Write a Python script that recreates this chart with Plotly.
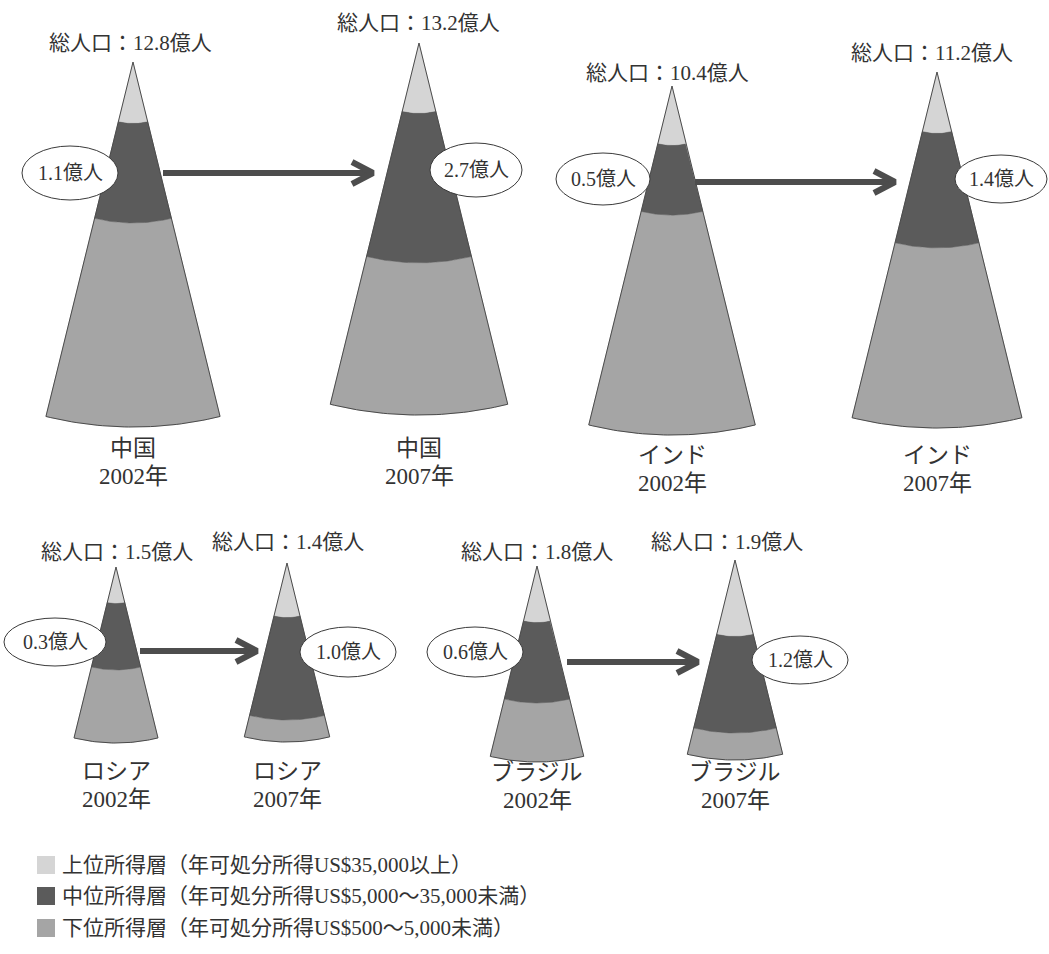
import math
import plotly.graph_objects as go

# ---------------- data ----------------
countries = ["中国", "中国", "インド", "インド", "ロシア", "ロシア", "ブラジル", "ブラジル"]
years = [2002, 2007, 2002, 2007, 2002, 2007, 2002, 2007]
total_pop = [12.8, 13.2, 10.4, 11.2, 1.5, 1.4, 1.8, 1.9]          # 億人
middle_pop = [1.1, 2.7, 0.5, 1.4, 0.3, 1.0, 0.6, 1.2]              # 億人
# radial extent of bands (fraction of cone length, from apex)
upper_share = [0.167, 0.188, 0.169, 0.171, 0.205, 0.302, 0.286, 0.380]
upper_mid_share = [0.441, 0.591, 0.370, 0.494, 0.585, 0.877, 0.699, 0.865]

legend_labels = [
    "上位所得層（年可処分所得US$35,000以上）",
    "中位所得層（年可処分所得US$5,000～35,000未満）",
    "下位所得層（年可処分所得US$500～5,000未満）",
]

# ---------------- layout / drawing parameters ----------------
W, H = 1049, 954
apex_x = [133, 419, 672, 937, 116, 287, 537, 735]
apex_y = [62, 43, 86, 72, 567, 563, 566, 560]
cone_len = [365, 372, 349, 356, 176, 179, 196, 200]
half_angle = math.radians(13.8)
title_x = [130, 418, 667, 932, 117, 288, 537, 727]
title_y = [43, 23, 73, 53, 552, 542, 552, 542]
label_y = [448, 448, 455, 455, 771, 771, 772, 772]
ell_cx = [70, 476, 603, 1001, 55, 348, 475, 800]
ell_cy = [173, 170, 179, 179, 642, 652, 652, 660]
ell_rx = [48, 46, 47, 46, 51, 48, 48, 48]
ell_ry = [27, 27, 26, 24, 24, 25, 25, 24]
arrows = [(163, 373, 173), (695, 895, 182), (140, 257, 651), (567, 698, 662)]

col_upper, col_mid, col_low = "#d5d5d5", "#5b5b5b", "#a5a5a5"
text_col = "#333333"
FONT = "Liberation Serif, 'Noto Sans CJK JP', serif"

fig = go.Figure()


def arc(ax, ay, r, a0, a1, n=40):
    xs, ys = [], []
    for i in range(n + 1):
        a = a0 + (a1 - a0) * i / n
        xs.append(ax + r * math.sin(a))
        ys.append(ay + r * math.cos(a))
    return xs, ys


def band(ax, ay, r0, r1, color):
    xo, yo = arc(ax, ay, r1, -half_angle, half_angle)
    if r0 <= 0:
        xi, yi = [ax], [ay]
    else:
        xi, yi = arc(ax, ay, r0, half_angle, -half_angle)
    xs = xo + xi + [xo[0]]
    ys = yo + yi + [yo[0]]
    fig.add_trace(go.Scatter(x=xs, y=ys, mode="lines", fill="toself",
                             fillcolor=color, line=dict(color=color, width=0.5),
                             hoverinfo="skip", showlegend=False))


annotations = []
shapes = []
for i in range(len(countries)):
    ax, ay, L = apex_x[i], apex_y[i], cone_len[i]
    r_up = L * upper_share[i]
    r_mid = L * upper_mid_share[i]
    band(ax, ay, r_mid, L, col_low)
    band(ax, ay, r_up, r_mid, col_mid)
    band(ax, ay, 0, r_up, col_upper)
    # outline
    xo, yo = arc(ax, ay, L, -half_angle, half_angle)
    fig.add_trace(go.Scatter(x=[ax] + xo + [ax], y=[ay] + yo + [ay], mode="lines",
                             line=dict(color="#4a4a4a", width=1),
                             hoverinfo="skip", showlegend=False))
    # title
    annotations.append(dict(x=title_x[i], y=title_y[i], text=f"総人口：{total_pop[i]:.1f}億人",
                            showarrow=False, xanchor="center", yanchor="middle",
                            font=dict(size=21, color=text_col, family=FONT)))
    # country / year labels
    annotations.append(dict(x=ax, y=label_y[i], text=countries[i],
                            showarrow=False, xanchor="center", yanchor="middle",
                            font=dict(size=23, color=text_col, family=FONT)))
    annotations.append(dict(x=ax, y=label_y[i] + 28, text=f"{years[i]}年",
                            showarrow=False, xanchor="center", yanchor="middle",
                            font=dict(size=23, color=text_col, family=FONT)))
    # ellipse with middle-class count
    shapes.append(dict(type="circle", xref="x", yref="y",
                       x0=ell_cx[i] - ell_rx[i], x1=ell_cx[i] + ell_rx[i],
                       y0=ell_cy[i] - ell_ry[i], y1=ell_cy[i] + ell_ry[i],
                       fillcolor="white", line=dict(color="#3a3a3a", width=1), layer="above"))
    annotations.append(dict(x=ell_cx[i], y=ell_cy[i], text=f"{middle_pop[i]:.1f}億人",
                            showarrow=False, xanchor="center", yanchor="middle",
                            font=dict(size=20, color=text_col, family=FONT)))

# arrows
for x0, x1, y in arrows:
    fig.add_trace(go.Scatter(x=[x0, x1 - 3], y=[y, y], mode="lines",
                             line=dict(color="#4d4d4d", width=6),
                             hoverinfo="skip", showlegend=False))
    fig.add_trace(go.Scatter(x=[x1 - 21, x1, x1 - 21], y=[y - 11, y, y + 11], mode="lines",
                             line=dict(color="#4d4d4d", width=6),
                             hoverinfo="skip", showlegend=False))

# legend
leg_y = [865, 896, 928]
for c, lab, y in zip([col_upper, col_mid, col_low], legend_labels, leg_y):
    shapes.append(dict(type="rect", xref="x", yref="y", x0=37, x1=55, y0=y - 9, y1=y + 9,
                       fillcolor=c, line=dict(width=0)))
    annotations.append(dict(x=60, y=y, text=lab, showarrow=False, xanchor="left",
                            yanchor="middle", font=dict(size=21, color=text_col, family=FONT)))

fig.update_layout(
    width=W, height=H, margin=dict(l=0, r=0, t=0, b=0),
    paper_bgcolor="white", plot_bgcolor="white",
    xaxis=dict(range=[0, W], visible=False, fixedrange=True),
    yaxis=dict(range=[H, 0], visible=False, fixedrange=True),
    annotations=annotations, shapes=shapes, showlegend=False,
)
fig.write_html("out.html")
